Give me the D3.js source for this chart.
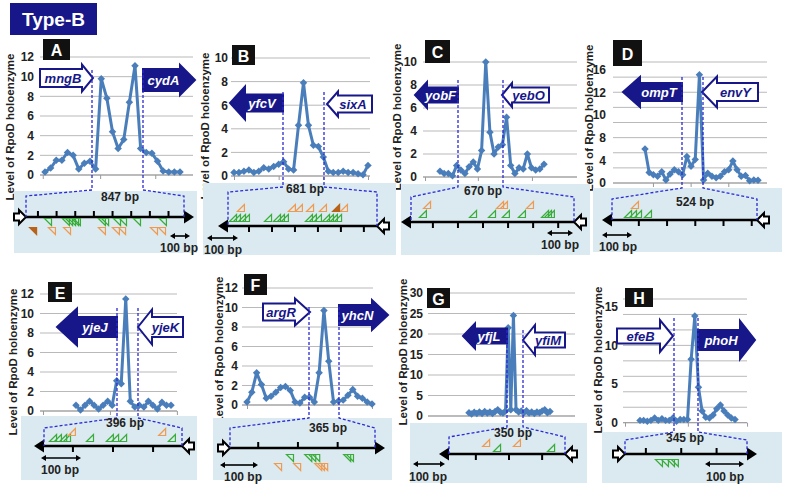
<!DOCTYPE html>
<html>
<head>
<meta charset="utf-8">
<script src="https://cdn.jsdelivr.net/npm/d3@7"></script>
<style>
  body { margin: 0; background: #fff; }
  svg { display: block; font-family: "Liberation Sans", Arial, sans-serif; }
</style>
</head>
<body>
<div id="chart"></div>
<script>
// RpoD holoenzyme profiles, Type-B promoters (8 panels)

// series values per panel
const valuesA = [0.3,0.7,1.5,1.5,2.3,2.0,0.6,1.2,1.4,0.6,9.8,7.8,4.4,2.7,3.6,7.4,11.1,2.7,2.3,2.2,1.4,0.4,0.3,0.3,0.3];
const valuesB = [0.3,0.3,0.4,0.5,0.3,0.4,0.7,0.6,0.8,1.0,1.2,0.6,0.5,4.3,7.9,4.3,2.6,2.5,1.6,0.4,0.3,0.3,0.4,0.3,0.3,0.2,0.1,0.9];
const valuesC = [0.5,0.3,0.3,0.1,1.0,0.6,0.3,0.9,1.3,0.7,2.3,10.0,3.9,2.0,2.6,2.8,5.2,1.0,0.3,0.8,0.7,2.0,0.8,0.6,0.7,1.1];
const valuesD = [4.5,1.4,1.1,0.9,1.5,0.4,1.2,1.75,1.5,1.1,3.5,2.2,3.1,14.3,0.4,1.3,0.9,0.7,0.9,1.5,1.75,2.9,1.75,0.9,1.0,0.3,0.4,0.35];
const valuesE = [0.6,0.1,0.6,1.0,0.6,0.2,0.6,1.0,0.6,3.1,2.8,11.5,1.0,0.4,0.6,0.4,1.0,0.6,0.2,0.9,0.6,0.6];
const valuesF = [0.3,1.3,3.3,2.1,0.7,0.9,1.3,1.8,1.9,1.5,0.3,0.2,0.8,0.8,0.3,3.3,9.7,4.5,0.3,0.4,0.5,1.0,1.6,0.9,0.7,0.3,0.1];
const valuesG = [0.8,0.5,0.9,0.6,1.0,0.6,1.1,0.7,1.0,0.6,1.1,1.5,0.9,0.7,1.2,21.5,1.5,24.5,1.5,1.0,1.2,0.8,1.3,0.7,1.0,0.6,1.0,0.8,1.2,1.5,0.8,1.1];
const valuesH = [0.3,0.3,0.2,0.3,0.6,0.3,0.5,0.3,0.3,0.6,0.2,0.4,0.4,0.4,8.2,13.8,4.6,1.5,0.7,0.6,1.0,1.8,2.3,1.5,1.0,0.6,0.4];

// y tick labels
const ticks12 = [0,2,4,6,8,10,12];
const ticks10 = [0,2,4,6,8,10];
const ticksDText = ["0","4","8","10","12","16"];
const ticksDPos = [0,3,6,9,12,15];
const ticksG = [0,5,10,15,20,25,30];
const ticksH = [0,5,10,15];

// gene names [left, right]
const genesA = ["mngB","cydA"];
const genesB = ["yfcV","sixA"];
const genesC = ["yobF","yebO"];
const genesD = ["ompT","envY"];
const genesE = ["yjeJ","yjeK"];
const genesF = ["argR","yhcN"];
const genesG = ["yfjL","yfiM"];
const genesH = ["efeB","phoH"];

// intergenic lengths (bp)
const lengths = {A:847, B:681, C:670, D:524, E:396, F:365, G:350, H:345};

// motif positions (bp from left end of region)
const greenA = [118,214,231,247,263,273,407,424,488,520,595,734];
const orangeA = [139,220,407,482,515,686,729];
const brownA = [38];
const greenB = [23,41,64,82,183,224,242,260,370,388,411,448,466,484,503];
const orangeB = [59,292,324,375,434,530];
const brownB = [494];
const greenC = [49,255,333,390,456,551,563,575];
const orangeC = [66,366,382,489];
const greenD = [58,76,94,130];
const orangeD = [83];
const greenE = [26,40,55,66,132,189,204,227,367];
const orangeE = [80,339];
const greenF = [151,197,207,217,295,302];
const orangeF = [121,169,222,229,237];
const greenG = [145,308];
const orangeG = [112,205];
const greenH = [96,113,130,141];

const NAVY = "#17178a", LINE = "#4a7ebb", DASH = "#2a2ad6";
const GREEN = "#3aac3a", ORANGE = "#f09a50", BROWN = "#b8621b";

const W = 787, H = 487;
const svg = d3.select("#chart").append("svg").attr("width", W).attr("height", H);

// layout for each panel
const panels = [
  {id:"A", values:valuesA, yMax:12, grid:2, tickPos:ticks12, gridX:[40,193], y0:175, yTop:57, pts:[45,180], labelX:34,
   ylab:[10,127], box:[43,39,27,21], xTicks:[-0.4,9.8,19.6],
   genes:genesA, arrows:[{x0:40,x1:93,yc:78,bh:18,hh:27,hl:11,dir:1,fill:false},{x0:143,x1:195,yc:80,bh:22,hh:30,hl:15,dir:1,fill:true}],
   blue:[14,191,183,62], len:lengths.A, gx:[26,184], lineY:217, tickStart:64, tickStep:100, tickUp:true,
   ends:[{type:"open",dir:1},{type:"filled",dir:1}],
   dash:{xl:92,xr:143,top:70,bot:190,diag:196}, bpLabel:[120,197],
   marks:[{bp:greenA,color:GREEN,y:222,down:true},{bp:orangeA,color:ORANGE,y:231,down:true},{bp:brownA,color:BROWN,y:231,down:true,solid:true}],
   scale:[170,190,236], scaleText:[179,248]},
  {id:"B", values:valuesB, yMax:10, grid:2, tickPos:ticks10, gridX:[231,370], y0:176, yTop:58, pts:[234,368], labelX:228,
   ylab:[205,126], box:[232,45,23,20], xTicks:[0,9,18,27],
   genes:genesB, arrows:[{x0:230,x1:283,yc:103,bh:17,hh:33,hl:15,dir:-1,fill:true},{x0:327,x1:372,yc:104,bh:17,hh:25,hl:11,dir:-1,fill:false}],
   blue:[203,183,193,72], len:lengths.B, gx:[228,377], lineY:226, tickStart:96, tickStep:105, tickUp:false,
   ends:[{type:"filled",dir:-1},{type:"open",dir:-1}],
   dash:{xl:283,xr:324,top:92,bot:187,diag:192}, bpLabel:[305,189],
   marks:[{bp:greenB,color:GREEN,y:218},{bp:orangeB,color:ORANGE,y:208},{bp:brownB,color:BROWN,y:208,solid:true}],
   scale:[207,238,238], scaleText:[223,250]},
  {id:"C", values:valuesC, yMax:10, grid:2, tickPos:ticks10, gridX:[423,577], y0:177, yTop:62, pts:[440,544], labelX:417,
   ylab:[397,117], box:[425,40,25,23], xTicks:[-3.6,9.1,22.1],
   genes:genesC, arrows:[{x0:415,x1:458,yc:95,bh:15,hh:26,hl:12,dir:-1,fill:true},{x0:502,x1:549,yc:95,bh:15,hh:24,hl:10,dir:-1,fill:false}],
   blue:[401,184,189,71], len:lengths.C, gx:[411,574], lineY:222, tickStart:90, tickStep:103, tickUp:false,
   ends:[{type:"filled",dir:-1},{type:"open",dir:-1}],
   dash:{xl:458,xr:503,top:80,bot:187,diag:197}, bpLabel:[483,191],
   marks:[{bp:greenC,color:GREEN,y:214},{bp:orangeC,color:ORANGE,y:205}],
   scale:[547,573,233], scaleText:[560,245]},
  {id:"D", values:valuesD, yMax:16, grid:2, tickPos:ticksDPos, tickText:ticksDText, gridX:[613,767], y0:183, yTop:62, pts:[645,758], labelX:606,
   ylab:[589,118], box:[613,40,29,26], xTicks:[1.9,10.9,19.9],
   genes:genesD, arrows:[{x0:623,x1:682,yc:92,bh:18,hh:30,hl:17,dir:-1,fill:true},{x0:702,x1:758,yc:92,bh:18,hh:31,hl:15,dir:-1,fill:false}],
   blue:[593,188,189,64], len:lengths.D, gx:[612,757], lineY:220, tickStart:97, tickStep:102, tickUp:false,
   ends:[{type:"filled",dir:-1},{type:"open",dir:-1}],
   dash:{xl:682,xr:703,top:77,bot:188,diag:199}, bpLabel:[695,202],
   marks:[{bp:greenD,color:GREEN,y:214},{bp:orangeD,color:ORANGE,y:205}],
   scale:[602,632,235], scaleText:[618,247]},
  {id:"E", values:valuesE, yMax:12, grid:2, tickPos:ticks12, gridX:[40,177], y0:411, yTop:294, pts:[76,171], labelX:34,
   ylab:[13,362], box:[48,282,24,20], xTicks:[-7.3,7.5,22.3],
   genes:genesE, arrows:[{x0:57,x1:117,yc:327,bh:20,hh:37,hl:20,dir:-1,fill:true},{x0:138,x1:183,yc:327,bh:20,hh:35,hl:14,dir:-1,fill:false}],
   blue:[21,416,176,64], len:lengths.E, gx:[44,182], lineY:446, tickStart:83, tickStep:115, tickUp:false,
   ends:[{type:"filled",dir:-1},{type:"open",dir:-1}],
   dash:{xl:117,xr:138,top:308,bot:418,diag:428}, bpLabel:[125,423],
   marks:[{bp:greenE,color:GREEN,y:438},{bp:orangeE,color:ORANGE,y:432}],
   scale:[41,81,458], scaleText:[60,470]},
  {id:"F", values:valuesF, yMax:12, grid:2, tickPos:ticks12, gridX:[242,373], y0:405, yTop:288, pts:[247,372], labelX:238,
   ylab:[219,350], box:[244,274,23,21], xTicks:[0,12.7,26],
   genes:genesF, arrows:[{x0:263,x1:310,yc:312,bh:17,hh:27,hl:15,dir:1,fill:false},{x0:339,x1:388,yc:315,bh:20,hh:30,hl:16,dir:1,fill:true}],
   blue:[213,418,179,62], len:lengths.F, gx:[230,375], lineY:448, tickStart:71, tickStep:100, tickUp:true,
   ends:[{type:"open",dir:1},{type:"filled",dir:1}],
   dash:{xl:309,xr:339,top:307,bot:418,diag:428}, bpLabel:[328,428],
   marks:[{bp:greenF,color:GREEN,y:458,down:true},{bp:orangeF,color:ORANGE,y:467,down:true}],
   scale:[220,258,465], scaleText:[243,477]},
  {id:"G", values:valuesG, yMax:30, grid:5, tickPos:ticksG, gridX:[428,575], y0:416, yTop:293, pts:[469,550], labelX:423,
   ylab:[403,352], box:[427,288,23,20], xTicks:[],
   genes:genesG, arrows:[{x0:463,x1:507,yc:336,bh:15,hh:25,hl:12,dir:-1,fill:true},{x0:523,x1:565,yc:340,bh:15,hh:30,hl:12,dir:-1,fill:false}],
   blue:[410,423,177,60], len:lengths.G, gx:[449,565], lineY:454, tickStart:81, tickStep:100, tickUp:false,
   ends:[{type:"filled",dir:-1},{type:"open",dir:-1}],
   dash:{xl:507,xr:523,top:330,bot:427,diag:437}, bpLabel:[513,433],
   marks:[{bp:greenG,color:GREEN,y:448},{bp:orangeG,color:ORANGE,y:443}],
   scale:[413,445,464], scaleText:[428,477]},
  {id:"H", values:valuesH, yMax:16, grid:2, tickPos:ticksH, gridX:[623,747], y0:422.7, yTop:299, pts:[640,735], labelX:618,
   ylab:[598,360], box:[625,288,28,19], xTicks:[-4.1,13.1,29.3],
   genes:genesH, arrows:[{x0:617,x1:673,yc:336,bh:15,hh:32,hl:13,dir:1,fill:false},{x0:698,x1:755,yc:340,bh:20,hh:38,hl:15,dir:1,fill:true}],
   blue:[602,432,180,51], len:lengths.H, gx:[625,747], lineY:454, tickStart:59, tickStep:100, tickUp:true,
   ends:[{type:"open",dir:1},{type:"filled",dir:1}],
   dash:{xl:674,xr:698,top:318,bot:432,diag:440}, bpLabel:[685,438],
   marks:[{bp:greenH,color:GREEN,y:463,down:true}],
   scale:[705,744,464], scaleText:[725,477]}
];

function arrowPath(a) {
  const t = a.yc - a.bh / 2, b = a.yc + a.bh / 2;
  const ht = a.yc - a.hh / 2, hb = a.yc + a.hh / 2;
  if (a.dir > 0) {
    const hx = a.x1 - a.hl;
    return `M${a.x0},${t}L${hx},${t}L${hx},${ht}L${a.x1},${a.yc}L${hx},${hb}L${hx},${b}L${a.x0},${b}Z`;
  }
  const hx = a.x0 + a.hl;
  return `M${a.x1},${t}L${hx},${t}L${hx},${ht}L${a.x0},${a.yc}L${hx},${hb}L${hx},${b}L${a.x1},${b}Z`;
}

// title
svg.append("rect").attr("x", 10).attr("y", 3).attr("width", 87).attr("height", 32).attr("fill", NAVY);
svg.append("text").attr("x", 53.5).attr("y", 26).attr("text-anchor", "middle")
  .attr("fill", "#fff").attr("font-weight", "bold").attr("font-size", 19).text("Type-B");

// first pass: charts (y labels go under the blue boxes)
panels.forEach(p => {
  const g = svg.append("g");
  const y = d3.scaleLinear().domain([0, p.yMax]).range([p.y0, p.yTop]);
  const x = d3.scaleLinear().domain([0, p.values.length - 1]).range(p.pts);

  // gridlines
  g.selectAll(".grid").data(d3.range(0, p.yMax + 0.001, p.grid)).join("line")
    .attr("x1", p.gridX[0]).attr("x2", p.gridX[1])
    .attr("y1", d => y(d)).attr("y2", d => y(d))
    .attr("stroke", "#b9b9b9").attr("stroke-width", 1);

  // baseline with small category ticks
  g.append("line").attr("x1", p.gridX[0]).attr("x2", p.gridX[1])
    .attr("y1", p.y0).attr("y2", p.y0).attr("stroke", "#9a9a9a");
  const xAxis = g.append("g").attr("transform", `translate(0,${p.y0})`)
    .call(d3.axisBottom(x).tickValues(p.xTicks).tickSize(4).tickFormat(""));
  xAxis.select(".domain").remove();
  xAxis.selectAll("line").attr("stroke", "#9a9a9a");

  // y tick labels
  const yAxis = g.append("g").attr("transform", `translate(${p.labelX + 3},0)`)
    .call(d3.axisLeft(y).tickValues(p.tickPos).tickSize(0).tickPadding(3)
      .tickFormat((d, i) => p.tickText ? p.tickText[i] : d));
  yAxis.select(".domain").remove();
  yAxis.selectAll("text").attr("font-family", "Liberation Sans, Arial, sans-serif")
    .attr("font-size", 12).attr("font-weight", "bold").attr("fill", "#222");

  // y axis title
  g.append("text").attr("transform", `translate(${p.ylab[0]},${p.ylab[1]}) rotate(-90)`)
    .attr("text-anchor", "middle").attr("dominant-baseline", "central")
    .attr("font-size", 11.5).attr("font-weight", "bold").attr("fill", "#222")
    .text("Level of RpoD holoenzyme");

  // data line
  g.append("path").datum(p.values)
    .attr("d", d3.line().x((d, i) => x(i)).y(d => y(d)))
    .attr("fill", "none").attr("stroke", LINE).attr("stroke-width", 3).attr("stroke-linejoin", "round");
  g.selectAll(".pt").data(p.values).join("path")
    .attr("transform", (d, i) => `translate(${x(i)},${y(d)}) rotate(45)`)
    .attr("d", d3.symbol(d3.symbolSquare, 28))
    .attr("fill", LINE);

  // gene arrows
  p.arrows.forEach((a, i) => {
    g.append("path").attr("d", arrowPath(a))
      .attr("fill", a.fill ? NAVY : "#fff").attr("stroke", NAVY).attr("stroke-width", 2)
      .attr("stroke-linejoin", "miter");
    const hx = a.dir > 0 ? a.x1 - a.hl : a.x0 + a.hl;
    const cx = a.dir > 0 ? (a.x0 + hx) / 2 + 2 : (hx + a.x1) / 2 - 2;
    g.append("text").attr("x", cx).attr("y", a.yc).attr("text-anchor", "middle")
      .attr("dominant-baseline", "central").attr("font-size", 13).attr("font-weight", "bold")
      .attr("font-style", "italic").attr("fill", a.fill ? "#fff" : NAVY).text(p.genes[i]);
  });

  // panel letter
  g.append("rect").attr("x", p.box[0]).attr("y", p.box[1]).attr("width", p.box[2]).attr("height", p.box[3]).attr("fill", "#111");
  g.append("text").attr("x", p.box[0] + p.box[2] / 2).attr("y", p.box[1] + p.box[3] / 2 + 1)
    .attr("text-anchor", "middle").attr("dominant-baseline", "central")
    .attr("font-size", 16).attr("font-weight", "bold").attr("fill", "#fff").text(p.id);
});

// second pass: zoomed intergenic maps
panels.forEach(p => {
  const g = svg.append("g");
  g.append("rect").attr("x", p.blue[0]).attr("y", p.blue[1]).attr("width", p.blue[2]).attr("height", p.blue[3])
    .attr("fill", "#dbeaf1");

  const gx = d3.scaleLinear().domain([0, p.len]).range(p.gx);
  const ly = p.lineY;

  // genome line + ticks
  g.append("line").attr("x1", p.gx[0]).attr("x2", p.gx[1]).attr("y1", ly).attr("y2", ly)
    .attr("stroke", "#000").attr("stroke-width", 2.6);
  g.selectAll(".gt").data(d3.range(p.tickStart, p.len, p.tickStep)).join("line")
    .attr("x1", d => gx(d)).attr("x2", d => gx(d))
    .attr("y1", ly).attr("y2", p.tickUp ? ly - 6 : ly + 6)
    .attr("stroke", "#000").attr("stroke-width", 2);

  // end markers
  p.ends.forEach((e, i) => {
    const ex = p.gx[i];
    const out = i === 0 ? -1 : 1;
    if (e.type === "filled") {
      g.append("path").attr("d", `M${ex},${ly - 6.5}L${ex + out * 10},${ly}L${ex},${ly + 6.5}Z`).attr("fill", "#000");
    } else {
      const hb = ex + out * 7, sb = ex + out * 12;
      g.append("path")
        .attr("d", `M${ex},${ly}L${hb},${ly - 7}L${hb},${ly - 3.5}L${sb},${ly - 3.5}L${sb},${ly + 3.5}L${hb},${ly + 3.5}L${hb},${ly + 7}Z`)
        .attr("fill", "#fff").attr("stroke", "#000").attr("stroke-width", 2).attr("stroke-linejoin", "miter");
    }
  });

  // motif triangles
  p.marks.forEach(m => {
    g.selectAll(null).data(m.bp).join("path")
      .attr("transform", d => `translate(${gx(d)},${m.y})`)
      .attr("d", m.down ? "M-3.5,-3.5L3.5,-3.5L3.5,3.5Z" : "M-3.5,3.5L3.5,3.5L3.5,-3.5Z")
      .attr("fill", m.solid ? m.color : "none").attr("stroke", m.color).attr("stroke-width", 1.2);
  });

  // dashed guides
  const d = p.dash;
  [[d.xl, p.gx[0]], [d.xr, p.gx[1]]].forEach(([xa, xb]) => {
    g.append("path").attr("d", `M${xa},${d.top}L${xa},${d.bot}L${xb},${d.diag}L${xb},${ly}`)
      .attr("fill", "none").attr("stroke", DASH).attr("stroke-width", 1.3).attr("stroke-dasharray", "3,2");
  });

  g.append("text").attr("x", p.bpLabel[0]).attr("y", p.bpLabel[1]).attr("text-anchor", "middle")
    .attr("dominant-baseline", "central").attr("font-size", 12).attr("font-weight", "bold")
    .attr("fill", "#222").text(p.len + " bp");

  // 100 bp scale bar
  const [s0, s1, sy] = p.scale;
  g.append("line").attr("x1", s0 + 3).attr("x2", s1 - 3).attr("y1", sy).attr("y2", sy)
    .attr("stroke", "#000").attr("stroke-width", 1.6);
  g.append("path").attr("d", `M${s0},${sy}L${s0 + 5},${sy - 3}L${s0 + 5},${sy + 3}ZM${s1},${sy}L${s1 - 5},${sy - 3}L${s1 - 5},${sy + 3}Z`)
    .attr("fill", "#000");
  g.append("text").attr("x", p.scaleText[0]).attr("y", p.scaleText[1]).attr("text-anchor", "middle")
    .attr("dominant-baseline", "central").attr("font-size", 12).attr("font-weight", "bold")
    .attr("fill", "#222").text("100 bp");
});
</script>
</body>
</html>
